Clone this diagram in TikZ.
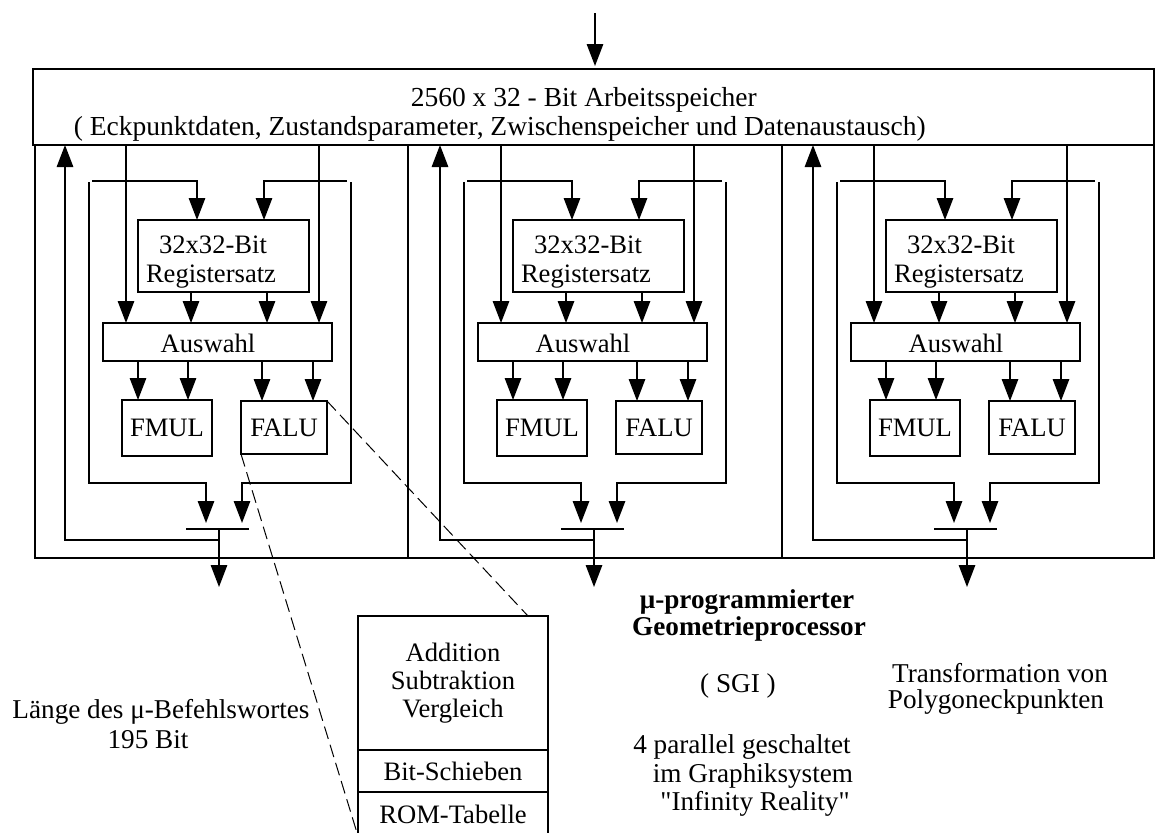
\documentclass[tikz,border=0pt]{standalone}
\usepackage{fontspec}
\setmainfont{Liberation Serif}
% plain font instance, used for the straight double quote
\font\straightq="Liberation Serif" at 13.6pt
\usetikzlibrary{arrows.meta}
\begin{document}
\begin{tikzpicture}[x=0.5pt, y=-0.5pt, line width=0.85pt,
  font=\fontsize{13.3}{14.5}\selectfont,
  arr/.style={-{Triangle[width=8.2pt,length=11pt]}},
  blk/.style={draw, inner sep=0pt, outer sep=0pt},
  txt/.style={inner sep=0pt, anchor=base},
  note/.style={txt, font=\fontsize{13.6}{14.5}\selectfont},
  big/.style={inner sep=0pt, anchor=base west, font=\fontsize{13.75}{14.5}\selectfont},
  lens/.style={draw, dash pattern=on 6.5pt off 3pt, line width=0.5pt}]
\useasboundingbox (0,0) rectangle (1157,832);

% shared working memory
\node[blk, minimum width=560.5pt, minimum height=38pt] (mem) at (593.5,107) {};
\node[big] (memA) at (410,106) {2560 x 32 - Bit Arbeitsspeicher};
\node[big] (memB) at (73,135) {( Eckpunktdaten, Zustandsparameter, Zwischenspeicher und Datenaustausch)};
\coordinate (in) at (595,13);
\draw[arr, shorten >=1.5pt] (in) -- (mem.north -| in);

% the three processing units
\node[blk, minimum width=186.5pt, minimum height=206.5pt] (frame1) at (221.5,351.5) {};
\node[blk, minimum width=187pt, minimum height=206.5pt] (frame2) at (595,351.5) {};
\node[blk, minimum width=186pt, minimum height=206.5pt] (frame3) at (968,351.5) {};

\foreach \i/\o in {1/0, 2/375, 3/748}{
 \begin{scope}[shift={(\o,0)}]
  \node[blk, minimum width=85.5pt, minimum height=36pt] (reg\i) at (223.5,256) {};
  \node[txt] (regA\i) at (213,253) {32x32-Bit};
  \node[txt] (regB\i) at (211,282) {Registersatz};
  \node[blk, minimum width=114.5pt, minimum height=19pt] (aus\i) at (217.5,342) {};
  \node[txt] (ausT\i) at (208,352) {Auswahl};
  \node[blk, minimum width=45pt, minimum height=28pt] (fmul\i) at (167,428) {FMUL};
  \node[blk, minimum width=43pt, minimum height=26.5pt] (falu\i) at (284,427.5) {FALU};
  % memory read ports
  \draw[arr] (mem.south -| 126,0) -- (aus\i.north -| 126,0);
  \draw[arr] (mem.south -| 319,0) -- (aus\i.north -| 319,0);
  % register file to selector
  \draw[arr] (reg\i.south -| 191,0) -- (aus\i.north -| 191,0);
  \draw[arr] (reg\i.south -| 267,0) -- (aus\i.north -| 267,0);
  % selector to arithmetic units
  \draw[arr] (aus\i.south -| 138,0) -- (fmul\i.north -| 138,0);
  \draw[arr] (aus\i.south -| 188,0) -- (fmul\i.north -| 188,0);
  \draw[arr] (aus\i.south -| 262,0) -- (falu\i.north -| 262,0);
  \draw[arr] (aus\i.south -| 313,0) -- (falu\i.north -| 313,0);
  % result bus back into the register file
  \coordinate (tl\i) at (92,181);
  \coordinate (tr\i) at (347,181);
  \draw[arr] (tl\i) -| (reg\i.north -| 197,0);
  \draw[arr] (tr\i) -| (reg\i.north -| 264,0);
  % result bus down to the merge
  \coordinate (bl\i) at (89,182);
  \coordinate (br\i) at (351,182);
  \coordinate (barL\i) at (186,529);
  \coordinate (barR\i) at (249,529);
  \coordinate (barC\i) at (219,529);
  \draw (barL\i) -- (barR\i);
  \draw[arr, shorten >=3pt] (bl\i) |- (206,483) -- (barC\i -| 206,0);
  \draw[arr, shorten >=3pt] (br\i) |- (242,483) -- (barC\i -| 242,0);
  % write back to memory and output
  \coordinate (fb\i) at (219,540);
  \draw[arr] (fb\i) -| (mem.south -| 65,0);
  \coordinate (out\i) at (219,587);
  \draw[arr] (barC\i) -- (out\i);
 \end{scope}
}

% detail of the FALU
\node[blk, minimum width=95pt, minimum height=67pt, align=center,
      font=\fontsize{13.3}{14}\selectfont] (romA) at (453,683) {Addition\\Subtraktion\\Vergleich};
\node[blk, minimum width=95pt, minimum height=21pt] (romB) at (453,771) {Bit-Schieben};
\node[blk, minimum width=95pt, minimum height=22pt] (romC) at (453,814) {ROM-Tabelle};
\draw[lens] (falu1.north east) -- (romA.north -| 528,0);
\draw[lens] (falu1.south west) -- (romC.south west);

% annotations
\node[note] (len1) at (161,718) {Länge des μ-Befehlswortes};
\node[note] (len2) at (148,748) {195 Bit};
\node[note] (gp1) at (747,608) {\bfseries μ-programmierter};
\node[note] (gp2) at (749,635) {\bfseries Geometrieprocessor};
\node[note] (sgi) at (738,692) {( SGI )};
\node[note] (par1) at (742,753) {4 parallel geschaltet};
\node[note] (par2) at (753,782) {im Graphiksystem};
\node[note] (par3) at (755,810) {{\straightq"}Infinity Reality{\straightq"}};
\node[note] (tf1) at (1000,682) {Transformation von};
\node[note] (tf2) at (996,708) {Polygoneckpunkten};
\end{tikzpicture}
\end{document}
